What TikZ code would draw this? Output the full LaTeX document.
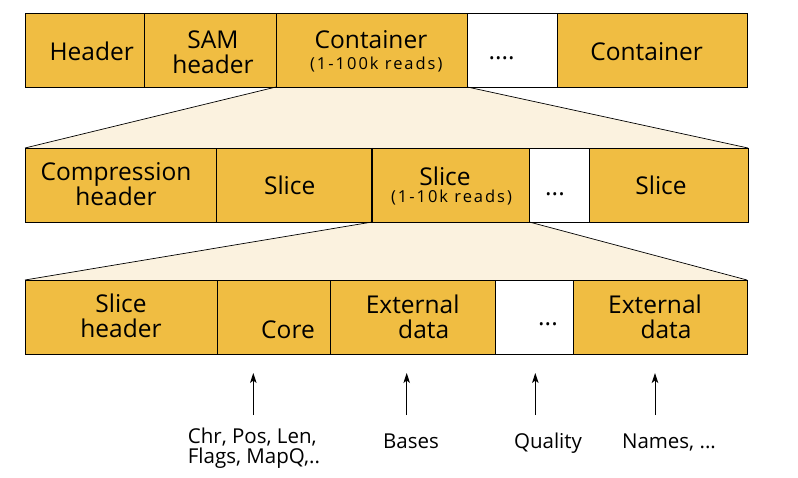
\documentclass[tikz,border=0pt]{standalone}
\usepackage{xcolor}
\usepackage{fontspec}
\setmainfont{Open Sans}
\newfontfamily\readsfont[LetterSpace=12]{Open Sans}
\usepackage{tikz}
\usetikzlibrary{arrows.meta}
\usetikzlibrary{backgrounds}
\usetikzlibrary{calc}
\definecolor{cramgold}{RGB}{240,189,66}
\definecolor{cramcream}{RGB}{251,242,223}
\tikzstyle{bloc}=[
        draw,
        fill=cramgold,
        line width=0.9pt,
        minimum height=74pt,
        inner sep=0pt,
        outer sep=0pt,
        anchor=north west
]
\tikzstyle{vide}=[bloc,fill=white]
\tikzstyle{etiq}=[inner sep=0pt,font=\fontsize{24.5}{25}\selectfont,align=center]
\tikzstyle{petit}=[inner sep=0pt,font=\fontsize{16.5}{18}\readsfont]
\tikzstyle{legende}=[inner sep=0pt,font=\fontsize{20.5}{20}\selectfont,align=left]
\tikzstyle{loupe}=[fill=cramcream]
\tikzstyle{bord}=[line width=0.7pt]
\tikzstyle{suite}=[->,>={Stealth[length=10pt,width=6.5pt,inset=2.5pt]},line width=0.9pt]

\begin{document}
\begin{tikzpicture}[x=1pt,y=-1pt]
\useasboundingbox (0,0) rectangle (798,478);
%Conteneurs
\node[bloc,minimum width=119.3pt] (entete) at (25,13) {};
\node[bloc,minimum width=131.7pt] (sam) at (144.3,13) {};
\node[bloc,minimum width=191.3pt] (cont) at (276,13) {};
\node[vide,minimum width=90pt] (contvide) at (467.3,13) {};
\node[bloc,minimum width=189.7pt] (contfin) at (557.3,13) {};
\node[etiq,anchor=base] (tentete) at (91.7,61) {Header};
\node[etiq] (tsam) at (213,52.5) {SAM\\header};
\node[etiq,anchor=base] (tcont) at (371,49) {Container};
\node[petit,anchor=base] (tlus) at (376.3,69.5) {(1-100k reads)};
\node[etiq,anchor=base] (tcontvide) at (501.7,60) {....};
\node[etiq,anchor=base] (tcontfin) at (646.7,61) {Container};
%Tranches
\node[bloc,minimum width=191pt] (compr) at (25,148) {};
\node[bloc,minimum width=156.3pt] (tranche) at (216,148) {};
\node[bloc,minimum width=157pt] (tranchelue) at (372.3,148) {};
\node[vide,minimum width=60pt] (tranchevide) at (529.3,148) {};
\node[bloc,minimum width=158.7pt] (tranchefin) at (589.3,148) {};
\draw[line width=1.8pt] (tranchelue.north west) -- (tranchelue.south west);
\node[etiq] (tcompr) at (116,184.6) {Compression\\header};
\node[etiq,anchor=base] (ttranche) at (289.7,194.3) {Slice};
\node[etiq,anchor=base] (ttranchelue) at (445,186) {Slice};
\node[petit,anchor=base] (tlus2) at (451.5,203) {(1-10k reads)};
\node[etiq,anchor=base] (ttranchevide) at (555,196) {...};
\node[etiq,anchor=base] (ttranchefin) at (661,195) {Slice};
%Blocs
\node[bloc,minimum width=192pt] (entetetr) at (25,280) {};
\node[bloc,minimum width=113.7pt] (coeur) at (217,280) {};
\node[bloc,minimum width=165pt] (externe) at (330.7,280) {};
\node[vide,minimum width=78pt] (externevide) at (495.7,280) {};
\node[bloc,minimum width=173.3pt] (externefin) at (573.7,280) {};
\node[etiq] (tentetetr) at (121,315.9) {Slice\\header};
\node[etiq,anchor=base] (tcoeur) at (288,339) {Core};
\node[etiq] (texterne) at (412.7,316.5) {External\\\hspace*{22pt}data};
\node[etiq,anchor=base] (texternevide) at (548,326) {...};
\node[etiq] (texternefin) at (655,316.5) {External\\\hspace*{22pt}data};
%Zooms
\begin{scope}[on background layer]
\fill[loupe] (cont.south west) -- (cont.south east) -- (tranchefin.north east) -- (compr.north west) -- cycle;
\fill[loupe] (tranchelue.south west) -- (tranchelue.south east) -- (externefin.north east) -- (entetetr.north west) -- cycle;
\end{scope}
\draw[bord] (cont.south west) -- (compr.north west);
\draw[bord] (cont.south east) -- (tranchefin.north east);
\draw[bord] (tranchelue.south west) -- (entetetr.north west);
\draw[bord] (tranchelue.south east) -- (externefin.north east);
%Legendes
\node[legende,anchor=west] (champs) at (187.7,448) {Chr, Pos, Len,\\Flags, MapQ,..};
\node[legende,anchor=base] (bases) at (411,448.3) {Bases};
\node[legende,anchor=base] (qualite) at (548,448.3) {Quality};
\node[legende,anchor=base] (noms) at (669,448.3) {Names, ...};
\coordinate (dchamps) at (253.3,415);
\coordinate (fchamps) at (253.3,373);
\coordinate (dbases) at (406.7,415);
\coordinate (fbases) at (406.7,373);
\coordinate (dqualite) at (535.3,415);
\coordinate (fqualite) at (535.3,373);
\coordinate (dnoms) at (655,415);
\coordinate (fnoms) at (655,373);
\draw[suite] (dchamps) -- (fchamps);
\draw[suite] (dbases) -- (fbases);
\draw[suite] (dqualite) -- (fqualite);
\draw[suite] (dnoms) -- (fnoms);
\end{tikzpicture}
\end{document}
